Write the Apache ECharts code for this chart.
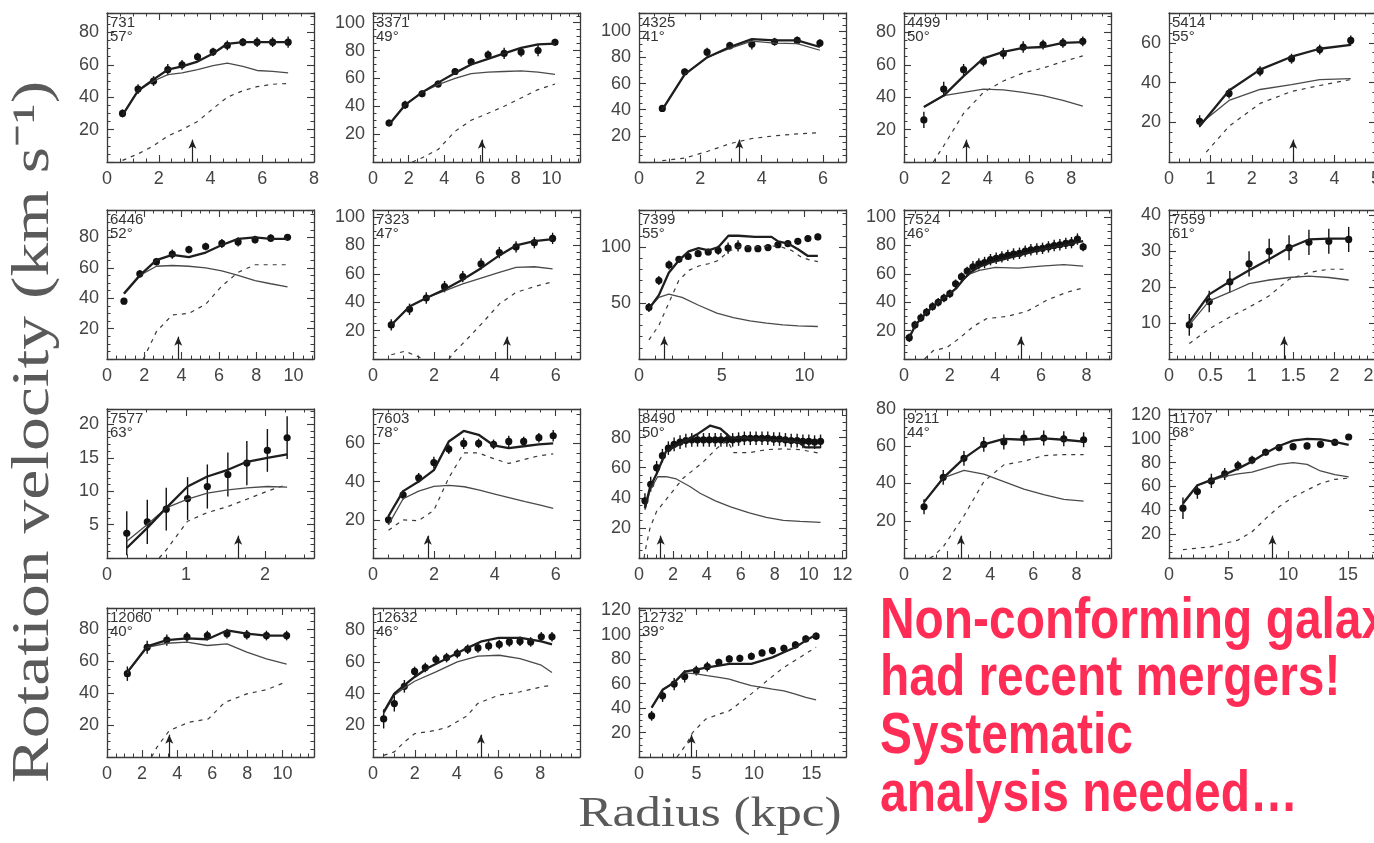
<!DOCTYPE html>
<html>
<head>
<meta charset="utf-8">
<title>Rotation curves</title>
<script src="https://cdn.jsdelivr.net/npm/echarts@6/dist/echarts.min.js"></script>
<style>
html, body { margin: 0; padding: 0; background: #fff; }
#main { width: 1374px; height: 843px; }
</style>
</head>
<body>
<div id="main"></div>
<script>
// galaxy ids, inclinations and the arrow radius of each panel
var galaxies = ['731', '3371', '4325', '4499', '5414', '6446', '7323', '7399', '7524', '7559',
    '7577', '7603', '8490', '9211', '11707', '12060', '12632', '12732'];
var incl = [57, 49, 41, 50, 55, 52, 47, 55, 46, 61, 63, 78, 50, 44, 68, 40, 46, 39];
var arrowR = [3.3, 6.1, 3.27, 2.98, 3.0, 3.82, 4.4, 1.52, 5.12, 1.39, 1.66, 1.8, 1.28, 2.64, 8.67, 3.55, 5.16, 4.57];

// axis ranges and tick steps
var xMax = [8, 11.6, 6.75, 9.9, 5, 11.1, 6.8, 12.5, 9.07, 2.5, 2.62, 6.8, 12.2, 9.6, 17.35, 11.8, 9.9, 18];
var xStep = [2, 2, 2, 2, 1, 2, 2, 5, 2, 0.5, 1, 2, 2, 2, 5, 2, 2, 5];
var xMinor = [4, 4, 4, 4, 4, 4, 4, 5, 4, 5, 4, 4, 4, 4, 5, 4, 4, 5];
var yMax = [92, 107, 114, 92, 75, 98, 105, 133, 105, 41.5, 22.3, 78, 99, 80, 125, 93, 94, 122];
var yStep = [20, 20, 20, 20, 20, 20, 20, 50, 20, 10, 5, 20, 20, 20, 20, 20, 20, 20];
var yMinor = [4, 4, 4, 4, 4, 4, 4, 5, 4, 5, 5, 4, 4, 4, 4, 4, 4, 4];

// 731
var r731 = [0.6, 1.2, 1.8, 2.35, 2.9, 3.5, 4.1, 4.65, 5.25, 5.8, 6.4, 7.0];
var v731 = [30, 45, 50, 57, 60, 65, 68, 72, 74, 74, 74, 74];
var e731 = [2.5, 3, 3, 3.5, 3, 2.5, 2.5, 3, 2.5, 3, 3, 3.5];
var tot731 = [[0.6, 29], [1.2, 44], [1.8, 51], [2.35, 57], [2.9, 59], [3.5, 62], [4.1, 67], [4.65, 73], [5.25, 74], [5.8, 74], [6.4, 74], [7.0, 74]];
var disk731 = [[0.6, 29], [1.2, 44], [1.8, 50], [2.35, 54], [2.9, 55], [3.5, 57], [4.1, 59.5], [4.65, 61], [5.25, 59], [5.8, 56.5], [6.4, 56], [7.0, 55]];
var halo731 = [[0.6, 1], [1.2, 5], [1.8, 10], [2.35, 16], [2.9, 20], [3.5, 25], [4.1, 33], [4.65, 40], [5.25, 44], [5.8, 46.5], [6.4, 48], [7.0, 48.5]];

// 3371
var r3371 = [0.9, 1.8, 2.75, 3.65, 4.6, 5.5, 6.45, 7.35, 8.3, 9.25, 10.2];
var v3371 = [28, 41, 49, 56, 65, 72, 77, 78, 79, 80, 86];
var e3371 = [2.5, 3, 2.5, 2.5, 2.5, 2.5, 3, 4, 3.5, 4, 2.5];
var tot3371 = [[0.9, 27], [1.8, 41], [2.75, 50], [3.65, 57], [4.6, 64], [5.5, 70], [6.45, 74], [7.35, 78], [8.3, 82], [9.25, 84.5], [10.2, 85]];
var disk3371 = [[0.9, 27], [1.8, 41], [2.75, 50], [3.65, 55.5], [4.6, 60], [5.5, 63.5], [6.45, 64.5], [7.35, 65], [8.3, 65.5], [9.25, 64.5], [10.2, 63]];
var halo3371 = [[2.2, 0], [2.75, 3], [3.65, 9], [4.6, 22], [5.5, 30], [6.45, 35], [7.35, 40], [8.3, 46], [9.25, 52], [10.2, 56]];

// 4325
var r4325 = [0.76, 1.49, 2.22, 2.96, 3.68, 4.42, 5.16, 5.9];
var v4325 = [41, 69, 84, 89, 90, 92, 93, 91];
var e4325 = [2.5, 2.5, 3.5, 3, 4, 3, 3, 3];
var tot4325 = [[0.76, 40], [1.49, 67], [2.22, 80], [2.96, 88], [3.68, 94], [4.42, 93], [5.16, 93], [5.9, 88]];
var disk4325 = [[0.76, 40], [1.49, 67], [2.22, 80], [2.96, 87], [3.68, 92.5], [4.42, 91], [5.16, 90.5], [5.9, 85.5]];
var halo4325 = [[0.76, 1], [1.49, 3], [2.22, 8], [2.96, 14], [3.68, 18], [4.42, 20], [5.16, 21.5], [5.9, 22.5]];

// 4499
var r4499 = [0.95, 1.9, 2.85, 3.8, 4.75, 5.7, 6.65, 7.6, 8.55];
var v4499 = [26, 45, 57, 62, 67, 71, 72.5, 73.5, 74.5];
var e4499 = [5, 4.5, 3.5, 3, 3.5, 3.5, 3, 3, 3];
var tot4499 = [[0.95, 34], [1.9, 41], [2.85, 53], [3.8, 64], [4.75, 68], [5.7, 70.5], [6.65, 71], [7.6, 73.5], [8.55, 74]];
var disk4499 = [[0.95, 34], [1.9, 41], [2.85, 43], [3.8, 45], [4.75, 44.5], [5.7, 43], [6.65, 41], [7.6, 38], [8.55, 34.5]];
var halo4499 = [[1.4, 0], [1.9, 10], [2.85, 30], [3.8, 43], [4.75, 50], [5.7, 55], [6.65, 58], [7.6, 62], [8.55, 65.5]];

// 5414
var r5414 = [0.74, 1.45, 2.2, 2.96, 3.64, 4.39];
var v5414 = [20.5, 34.5, 45.7, 52, 56.6, 61.2];
var e5414 = [3, 2.5, 2.5, 2.5, 2.5, 2.5];
var tot5414 = [[0.74, 18], [1.45, 36], [2.2, 46.5], [2.96, 53], [3.64, 57], [4.39, 59]];
var disk5414 = [[0.74, 19], [1.45, 31], [2.2, 36.5], [2.96, 39], [3.64, 41.5], [4.39, 42]];
var halo5414 = [[0.9, 5], [1.45, 18], [2.2, 29.5], [2.96, 35.5], [3.64, 38.5], [4.39, 41.5]];

// 6446
var r6446 = [0.91, 1.76, 2.65, 3.5, 4.39, 5.29, 6.16, 7.03, 7.94, 8.78, 9.68];
var v6446 = [38, 56, 64, 69, 72, 74, 76, 77, 78.5, 79.5, 80];
var e6446 = [2, 2.5, 2.5, 3, 2.5, 2.5, 3, 3, 2.5, 2.5, 2];
var tot6446 = [[0.91, 43], [1.76, 55], [2.65, 65], [3.5, 68.5], [4.39, 67], [5.29, 70], [6.16, 75], [7.03, 79], [7.94, 80], [8.78, 79], [9.68, 79]];
var disk6446 = [[0.91, 43], [1.76, 55], [2.65, 61], [3.5, 61.5], [4.39, 61], [5.29, 60], [6.16, 58], [7.03, 55], [7.94, 51.5], [8.78, 49.5], [9.68, 47.5]];
var halo6446 = [[1.95, 0], [2.65, 18], [3.5, 29], [4.39, 30], [5.29, 36], [6.16, 48], [7.03, 57], [7.94, 62], [8.78, 62], [9.68, 62]];

// 7323
var r7323 = [0.6, 1.2, 1.75, 2.35, 2.95, 3.55, 4.15, 4.7, 5.3, 5.9];
var v7323 = [24, 35, 43, 51, 58, 67, 75, 79, 82, 85];
var e7323 = [4, 4, 4, 4, 4, 4, 4, 4, 4, 4];
var tot7323 = [[0.6, 24], [1.2, 37], [1.75, 43], [2.35, 49], [2.95, 56], [3.55, 64], [4.15, 73], [4.7, 80], [5.3, 83], [5.9, 84.5]];
var disk7323 = [[0.6, 24], [1.2, 37], [1.75, 43], [2.35, 48], [2.95, 53], [3.55, 57], [4.15, 61], [4.7, 64.5], [5.3, 65], [5.9, 63.5]];
var halo7323 = [[0.6, 3], [1.05, 5.5], [1.5, 1.5], [1.9, -3], [2.4, -3], [2.63, 4], [3.07, 13.5], [3.62, 26], [4.16, 39], [4.71, 47], [5.3, 51], [5.91, 54.5]];

// 7399
var r7399 = [0.6, 1.2, 1.81, 2.41, 2.97, 3.57, 4.18, 4.78, 5.38, 5.98, 6.58, 7.18, 7.79, 8.39, 8.99, 9.59, 10.2, 10.8];
var v7399 = [46, 70, 84, 89, 91.5, 94, 95.5, 97, 99, 101, 98.5, 98.5, 99.5, 102, 103, 105, 107.5, 109];
var e7399 = [4, 4, 4, 3, 3, 3, 3, 4, 5, 5, 3, 3, 3, 3, 3, 3, 3, 3];
var tot7399 = [[0.6, 45], [1.2, 57], [1.8, 77], [2.4, 88], [3, 96], [3.6, 99], [4.2, 97], [4.8, 100], [5.4, 110], [6, 110], [7, 109], [8, 109], [8.4, 105], [9, 103], [9.6, 98], [10.2, 92], [10.8, 92]];
var disk7399 = [[0.6, 45], [1.2, 55], [1.8, 58], [2.6, 55], [3.6, 48], [4.7, 41], [5.7, 37], [6.7, 34], [7.7, 32], [8.7, 30.5], [9.6, 29.5], [10.8, 29]];
var halo7399 = [[0.6, 17], [1.2, 30], [1.8, 50], [2.4, 70], [3, 79], [3.6, 83], [4.2, 85], [4.8, 88], [5.4, 96], [6, 100], [7, 100], [8, 101], [8.6, 100], [9.2, 97], [9.8, 91], [10.4, 88], [10.8, 87]];

// 7524
var r7524 = [0.23, 0.48, 0.74, 0.99, 1.25, 1.5, 1.75, 2.01, 2.26, 2.52, 2.77, 3.02, 3.28, 3.53, 3.79, 4.04,
    4.29, 4.55, 4.8, 5.06, 5.31, 5.56, 5.82, 6.07, 6.33, 6.58, 6.83, 7.09, 7.34, 7.6, 7.85];
var v7524 = [15, 24, 29, 33, 37, 40, 43, 46, 53, 58, 62, 65, 67, 68, 70, 71,
    72, 73, 74, 74.5, 76, 77, 77.5, 78, 79, 80, 80.5, 81.5, 82, 84.5, 79];
var e7524 = [3, 3, 3, 3, 3, 3, 3, 3, 3, 3, 3, 4, 4, 4, 4, 4,
    4, 4, 4, 4, 4, 4, 4, 4, 4, 4, 4, 4, 4, 4, 3];
var tot7524 = [[0.23, 15], [0.5, 24], [1.0, 33], [1.5, 40], [2.0, 46], [2.3, 50], [2.6, 56], [2.9, 61], [3.3, 65], [3.8, 68], [4.3, 70], [5.0, 73], [5.5, 75], [6.0, 77], [6.5, 78.5], [7.0, 80], [7.5, 82], [7.85, 83]];
var disk7524 = [[0.23, 15], [0.5, 24], [1.0, 33], [1.5, 40], [2.0, 46], [2.3, 50], [2.6, 56], [2.9, 60], [3.3, 62.5], [4, 64.5], [5, 64], [6, 65.5], [7, 66.5], [7.85, 65.5]];
var halo7524 = [[0.9, 0], [1.29, 6], [1.87, 8], [2.46, 15], [3.04, 23], [3.63, 28.5], [4.5, 30], [5.38, 33.5], [6.26, 41.5], [7.13, 47], [7.84, 50]];

// 7559
var r7559 = [0.245, 0.486, 0.735, 0.967, 1.21, 1.45, 1.69, 1.93, 2.17];
var v7559 = [9.5, 16, 21.5, 26.5, 30, 31, 32.5, 32.8, 33.3];
var e7559 = [3, 3, 3, 3.5, 3.5, 3.5, 3.5, 3.5, 3.5];
var tot7559 = [[0.245, 10.3], [0.486, 18], [0.735, 21.6], [0.967, 24.7], [1.21, 27.8], [1.45, 31], [1.69, 33.3], [1.93, 33.5], [2.17, 33.5]];
var disk7559 = [[0.245, 9.5], [0.486, 16.2], [0.735, 18.6], [0.967, 21], [1.21, 22], [1.45, 22.7], [1.69, 23.1], [1.93, 22.7], [2.17, 22]];
var halo7559 = [[0.245, 4.3], [0.486, 8.4], [0.735, 11.7], [0.967, 14.4], [1.21, 17.6], [1.45, 22.2], [1.69, 24.1], [1.93, 25], [2.17, 25]];

// 7577
var r7577 = [0.25, 0.51, 0.75, 1.02, 1.27, 1.53, 1.77, 2.03, 2.28];
var v7577 = [3.7, 5.4, 7.3, 8.9, 10.7, 12.5, 14.2, 16.1, 18];
var e7577 = [3.3, 3.3, 3.2, 3.2, 3.3, 3.3, 3.3, 3.2, 3.2];
var tot7577 = [[0.25, 1.5], [0.51, 4.5], [0.75, 7.5], [1.02, 10.7], [1.27, 12.2], [1.53, 13.2], [1.77, 14.4], [2.03, 15], [2.28, 15.5]];
var disk7577 = [[0.25, 2.5], [0.51, 5], [0.75, 7.5], [1.02, 8.8], [1.27, 9.7], [1.53, 10.2], [1.77, 10.5], [2.03, 10.7], [2.28, 10.6]];
var halo7577 = [[0.66, 0], [0.75, 1.2], [1.02, 5.5], [1.27, 6.8], [1.53, 7.7], [1.77, 8.8], [2.03, 10], [2.28, 11]];

// 7603
var r7603 = [0.51, 0.99, 1.5, 2.0, 2.49, 2.98, 3.47, 3.96, 4.46, 4.95, 5.45, 5.92];
var v7603 = [20, 33, 42, 50, 57, 60, 60, 59.5, 61, 61, 63, 64];
var e7603 = [2.5, 2.5, 2.5, 3, 2.5, 3, 2.5, 2.5, 3, 2.5, 2.5, 3];
var tot7603 = [[0.51, 22], [0.99, 35], [1.5, 40], [2.0, 46], [2.49, 61], [2.98, 66.5], [3.47, 64.5], [3.96, 59], [4.46, 57.5], [4.95, 58.5], [5.45, 59.5], [5.92, 60]];
var disk7603 = [[0.51, 17.5], [0.99, 31], [1.5, 35], [2.0, 37.5], [2.5, 38], [3.0, 37.3], [3.5, 35.5], [4.0, 33.5], [4.5, 31.5], [5.0, 29.5], [5.5, 27.7], [5.92, 26]];
var halo7603 = [[0.51, 14.5], [0.99, 20], [1.5, 19.5], [2.0, 25], [2.49, 42], [2.98, 55], [3.47, 55], [3.96, 52], [4.46, 49.5], [4.95, 51.5], [5.45, 53.5], [5.92, 54.5]];

// 8490
var r8490 = [0.35, 0.69, 1.04, 1.38, 1.73, 2.07, 2.42, 2.76, 3.11, 3.45, 3.8, 4.14, 4.49, 4.83, 5.18, 5.52,
    5.87, 6.21, 6.56, 6.9, 7.25, 7.59, 7.94, 8.28, 8.63, 8.97, 9.32, 9.66, 10.01, 10.35, 10.7];
var v8490 = [38, 49, 60, 68, 73, 75.5, 77, 78, 78.5, 78.5, 78.5, 78.5, 78.5, 78.5, 78.5, 78.5,
    79, 79.5, 79.5, 79.5, 79.5, 79.5, 79, 79, 78.5, 78, 78, 77.5, 77.5, 77, 77.5];
var e8490 = [5, 5, 4.5, 4.5, 4.5, 4.5, 4.5, 4.5, 4.5, 4.5, 4.5, 4.5, 4.5, 4.5, 4.5, 4.5,
    4.5, 4.5, 4.5, 4.5, 4.5, 4.5, 4.5, 4.5, 4.5, 4.5, 4.5, 4.5, 4.5, 4.5, 4.5];
var tot8490 = [[0.35, 33], [0.65, 47], [1.04, 56], [1.6, 71], [2.6, 77], [3.4, 82], [4.2, 88], [4.8, 86], [5.4, 80], [6, 80], [6.6, 79.5], [7.6, 78.5], [8.6, 78], [9.4, 77], [9.8, 73.5], [10.7, 73.5]];
var disk8490 = [[0.35, 32], [0.65, 45], [1.1, 54], [1.6, 54], [2.2, 52.5], [3, 47.5], [3.6, 43], [4.5, 38], [5.4, 34], [6.5, 30], [7.5, 27], [8.5, 25], [9.5, 24.3], [10.7, 23.7]];
var halo8490 = [[0.3, 0], [0.35, 4], [0.65, 20], [1.04, 31], [1.82, 42], [2.6, 53], [3.8, 64], [4.6, 73], [5.2, 78], [5.6, 70], [6.5, 70], [7.5, 72], [8.5, 72.5], [9.5, 72], [10.7, 69.5]];

// 9211
var r9211 = [0.93, 1.82, 2.78, 3.7, 4.63, 5.56, 6.48, 7.41, 8.33];
var v9211 = [27.5, 43.3, 53.5, 61, 62.3, 64.4, 64.4, 64, 63.5];
var e9211 = [4, 4, 4, 4, 4, 4, 4, 4, 4];
var tot9211 = [[0.93, 30], [1.82, 43], [2.78, 53.5], [3.7, 61], [4.63, 64], [5.56, 63.5], [6.48, 64.2], [7.41, 63.5], [8.33, 62.5]];
var disk9211 = [[0.93, 30], [1.82, 43], [2.78, 47], [3.7, 45], [4.63, 41], [5.56, 37], [6.48, 34], [7.41, 31.5], [8.33, 30.5]];
var halo9211 = [[1.2, 0], [1.36, 1], [1.82, 6], [2.75, 22], [3.7, 41], [4.63, 50], [5.56, 52], [6.48, 55], [7.41, 55.5], [8.33, 55.5]];

// 11707
var r11707 = [1.17, 2.38, 3.55, 4.67, 5.78, 6.96, 8.1, 9.22, 10.4, 11.57, 12.7, 13.9, 15.06];
var v11707 = [41.8, 55.7, 64.7, 70.5, 77.5, 82.2, 88.7, 92.6, 93.4, 94, 95.4, 97, 101.5];
var e11707 = [9, 6, 6, 5, 4, 3.5, 3, 3, 3, 3, 3, 3, 2];
var tot11707 = [[1.17, 46], [2.38, 61], [3.55, 65.5], [4.67, 70], [5.78, 75], [6.96, 81], [8.1, 88], [9.22, 94], [10.4, 98.5], [11.57, 100], [12.7, 99.5], [13.9, 97.5], [15.06, 95]];
var disk11707 = [[1.17, 45], [2.38, 61], [3.55, 65], [4.67, 68.5], [5.78, 70.5], [6.96, 72], [8.1, 75.5], [9.22, 78.5], [10.4, 80], [11.57, 78.5], [12.7, 73], [13.9, 70], [15.06, 68]];
var halo11707 = [[1.17, 7], [3.55, 9.5], [5.78, 15], [6.96, 22], [8.1, 33], [9.22, 43], [10.4, 51], [11.57, 57], [12.7, 62.5], [13.9, 66], [15.06, 67]];

// 12060
var r12060 = [1.16, 2.29, 3.41, 4.56, 5.72, 6.84, 7.97, 9.09, 10.24];
var v12060 = [52, 68.5, 73, 75, 75.8, 77, 76.3, 75.8, 75.8];
var e12060 = [4.5, 4, 3.5, 3, 3, 3, 3, 3, 3];
var tot12060 = [[1.16, 53], [2.29, 69], [3.41, 73], [4.56, 74], [5.72, 73.5], [6.84, 79], [7.97, 77], [9.09, 75.8], [10.24, 75.8]];
var disk12060 = [[1.16, 52.5], [2.29, 68.5], [3.41, 71], [4.56, 71.7], [5.72, 69.6], [6.84, 70.6], [7.97, 65.4], [9.09, 61.3], [10.24, 58]];
var halo12060 = [[2.54, 0], [2.84, 6], [3.55, 16.5], [4.67, 21.7], [5.78, 23.8], [6.7, 34], [7.97, 39.4], [9.09, 42], [10.24, 47]];

// 12632
var r12632 = [0.51, 1.02, 1.5, 1.99, 2.5, 3.01, 3.52, 4.03, 4.53, 5.02, 5.53, 6.04, 6.52, 7.03, 7.54, 8.05, 8.56];
var v12632 = [24, 33.7, 44.6, 54, 56.4, 61.5, 62.7, 65.3, 68, 68.8, 70.1, 71, 72.6, 73, 72.6, 75.8, 75.8];
var e12632 = [6, 5, 4, 3, 3, 3, 3, 3, 3, 3, 3, 3, 3, 3, 3, 3, 3];
var tot12632 = [[0.51, 28.4], [1.02, 40], [1.5, 45.3], [1.99, 50.5], [2.6, 56], [3.5, 62], [4.3, 67.4], [5.2, 73], [6.0, 75.2], [7.06, 75.2], [8.05, 73], [8.56, 71]];
var disk12632 = [[0.51, 27.4], [1.02, 39], [1.5, 43.6], [1.99, 47.8], [3.01, 53.7], [4.03, 60], [5.02, 63.6], [6.04, 64.2], [7.03, 62], [8.05, 57.9], [8.56, 53.3]];
var halo12632 = [[0.51, 1], [1.02, 3.2], [1.5, 9.5], [1.99, 14.7], [3.01, 16.8], [3.6, 19], [4.5, 26], [5.0, 33.7], [6.0, 39], [7.0, 41], [8.05, 44.2], [8.56, 45.3]];

// 12732
var r12732 = [1.1, 2.05, 3.06, 3.97, 4.98, 5.94, 6.94, 7.85, 8.77, 9.77, 10.7, 11.6, 12.6, 13.6, 14.5, 15.4];
var v12732 = [33.7, 50.1, 59.7, 66, 70.7, 74, 77.5, 80.3, 80.8, 82.5, 85.2, 87.1, 89, 91.8, 96.7, 98.9];
var e12732 = [4, 5, 5, 5, 4, 4, 3, 3, 3, 3, 3, 3, 3, 3, 3, 3];
var tot12732 = [[1.1, 40.5], [2.05, 55], [3.06, 61], [3.97, 69.9], [4.98, 71.5], [5.94, 73.4], [6.94, 74.8], [7.85, 76.2], [8.77, 76.2], [9.77, 76.2], [10.7, 78.9], [11.6, 81.6], [12.6, 85.8], [13.6, 89.9], [14.5, 95.3], [15.4, 100]];
var disk12732 = [[1.1, 40.5], [2.05, 55], [3.06, 61], [3.97, 68.8], [4.98, 68], [5.94, 66.6], [6.94, 65.2], [7.85, 63.8], [8.77, 61.1], [9.77, 58.4], [10.7, 57], [11.6, 55.6], [12.6, 54.2], [13.6, 51.5], [14.5, 48.8], [15.4, 46.8]];
var halo12732 = [[3.3, 0], [3.6, 3.6], [4.2, 11.8], [4.66, 20], [5.8, 31], [6.94, 35], [7.85, 37.8], [9, 46], [10.1, 54.2], [11.3, 63.8], [12.6, 73.4], [14, 81.6], [15.4, 89.9]];

var note = ['Non-conforming galaxies', 'had recent mergers!', 'Systematic', 'analysis needed\u2026'];

var panels = [
    { r: r731, v: v731, e: e731, tot: tot731, disk: disk731, halo: halo731 },
    { r: r3371, v: v3371, e: e3371, tot: tot3371, disk: disk3371, halo: halo3371 },
    { r: r4325, v: v4325, e: e4325, tot: tot4325, disk: disk4325, halo: halo4325 },
    { r: r4499, v: v4499, e: e4499, tot: tot4499, disk: disk4499, halo: halo4499 },
    { r: r5414, v: v5414, e: e5414, tot: tot5414, disk: disk5414, halo: halo5414 },
    { r: r6446, v: v6446, e: e6446, tot: tot6446, disk: disk6446, halo: halo6446 },
    { r: r7323, v: v7323, e: e7323, tot: tot7323, disk: disk7323, halo: halo7323 },
    { r: r7399, v: v7399, e: e7399, tot: tot7399, disk: disk7399, halo: halo7399 },
    { r: r7524, v: v7524, e: e7524, tot: tot7524, disk: disk7524, halo: halo7524 },
    { r: r7559, v: v7559, e: e7559, tot: tot7559, disk: disk7559, halo: halo7559 },
    { r: r7577, v: v7577, e: e7577, tot: tot7577, disk: disk7577, halo: halo7577 },
    { r: r7603, v: v7603, e: e7603, tot: tot7603, disk: disk7603, halo: halo7603 },
    { r: r8490, v: v8490, e: e8490, tot: tot8490, disk: disk8490, halo: halo8490 },
    { r: r9211, v: v9211, e: e9211, tot: tot9211, disk: disk9211, halo: halo9211 },
    { r: r11707, v: v11707, e: e11707, tot: tot11707, disk: disk11707, halo: halo11707 },
    { r: r12060, v: v12060, e: e12060, tot: tot12060, disk: disk12060, halo: halo12060 },
    { r: r12632, v: v12632, e: e12632, tot: tot12632, disk: disk12632, halo: halo12632 },
    { r: r12732, v: v12732, e: e12732, tot: tot12732, disk: disk12732, halo: halo12732 }
];

// layout of the panel boxes
var colLeft = [107, 373, 639, 904, 1169];
var rowTop = [13, 210, 409, 608];
var boxW = 207, boxH = 149;
var ink = '#3a3a3a';

var axis = (grid, pos, max, step, minor, labels, hideZero) => {
    return {
        type: 'value', gridIndex: grid, position: pos, min: 0, max: max, interval: step,
        splitLine: { show: false },
        axisLine: { show: true, onZero: false, lineStyle: { color: ink, width: 1.3 } },
        axisTick: { show: true, inside: true, length: 7, lineStyle: { color: ink, width: 1.1 } },
        minorTick: { show: true, splitNumber: minor, length: 3.5, lineStyle: { color: ink, width: 1 } },
        axisLabel: {
            show: labels, margin: 8, fontFamily: 'Liberation Sans', fontSize: 18, color: '#444',
            formatter: v => {
                var k = v / step;
                if (Math.abs(k - Math.round(k)) > 1e-6) return '';
                if (hideZero && v === 0) return '';
                return String(+v.toFixed(2));
            }
        }
    };
};

var grids = [], xAxes = [], yAxes = [], series = [], texts = [];

panels.forEach((p, i) => {
    var left = colLeft[i % 5], top = rowTop[Math.floor(i / 5)];
    grids.push({ left: left, top: top, width: boxW, height: boxH, outerBoundsMode: 'none' });
    xAxes.push(axis(i, 'bottom', xMax[i], xStep[i], xMinor[i], true, false));
    xAxes.push(axis(i, 'top', xMax[i], xStep[i], xMinor[i], false, false));
    yAxes.push(axis(i, 'left', yMax[i], yStep[i], yMinor[i], true, true));
    yAxes.push(axis(i, 'right', yMax[i], yStep[i], yMinor[i], false, true));

    var xi = 2 * i;
    series.push({
        type: 'line', xAxisIndex: xi, yAxisIndex: xi, data: p.halo, symbol: 'none',
        lineStyle: { color: ink, width: 1.2, type: [4, 5] },
        markLine: {
            silent: true, symbol: ['none', 'arrow'], symbolSize: [6, 9], animation: false,
            label: { show: false },
            lineStyle: { color: '#222', width: 1.2, type: 'solid' },
            data: [[{ coord: [arrowR[i], 0] }, { coord: [arrowR[i], yMax[i] * 0.15] }]]
        }
    });
    series.push({
        type: 'line', xAxisIndex: xi, yAxisIndex: xi, data: p.disk, symbol: 'none',
        lineStyle: { color: '#4a4a4a', width: 1.3 }
    });
    series.push({
        type: 'line', xAxisIndex: xi, yAxisIndex: xi, data: p.tot, symbol: 'none',
        lineStyle: { color: '#1e1e1e', width: 2.3 }
    });
    series.push({
        type: 'custom', xAxisIndex: xi, yAxisIndex: xi,
        data: p.r.map((x, k) => [x, p.v[k], p.e[k]]),
        encode: { x: 0, y: 1 },
        renderItem: (params, api) => {
            var x = api.value(0), y = api.value(1), e = api.value(2);
            var c = api.coord([x, y]), lo = api.coord([x, y - e]), hi = api.coord([x, y + e]);
            return {
                type: 'group', children: [
                    { type: 'line', shape: { x1: lo[0], y1: lo[1], x2: hi[0], y2: hi[1] }, style: { stroke: '#111', lineWidth: 1.4 } },
                    { type: 'circle', shape: { cx: c[0], cy: c[1], r: 3.6 }, style: { fill: '#111' } }
                ]
            };
        }
    });

    texts.push({ type: 'text', x: left + 3, y: top + 2, silent: true,
        style: { text: galaxies[i], font: '15px "Liberation Sans"', fill: '#333' } });
    texts.push({ type: 'text', x: left + 3, y: top + 16, silent: true,
        style: { text: incl[i] + '\u00b0', font: '15px "Liberation Sans"', fill: '#333' } });
});

// axis titles
texts.push({ type: 'text', x: 34, y: 432, rotation: Math.PI / 2, scaleX: 1.3, silent: true,
    style: { text: 'Rotation velocity (km s\u207b\u00b9)', font: '52px "Liberation Serif"', fill: '#5a5a5a', align: 'center', verticalAlign: 'middle' } });
texts.push({ type: 'text', x: 710, y: 815, scaleX: 1.22, silent: true,
    style: { text: 'Radius (kpc)', font: '42px "Liberation Serif"', fill: '#5a5a5a', align: 'center', verticalAlign: 'middle' } });

// red note
note.forEach((t, k) => {
    texts.push({ type: 'text', x: 880, y: 622 + k * 57.7, scaleX: 0.84, silent: true,
        style: { text: t, font: 'bold 57px "Liberation Sans"', fill: '#ff2d55', align: 'left', verticalAlign: 'middle' } });
});

var myChart = echarts.init(document.getElementById('main'), null, { renderer: 'canvas' });
myChart.setOption({
    animation: false,
    backgroundColor: '#fff',
    grid: grids,
    xAxis: xAxes,
    yAxis: yAxes,
    series: series,
    graphic: texts
});
</script>
</body>
</html>
